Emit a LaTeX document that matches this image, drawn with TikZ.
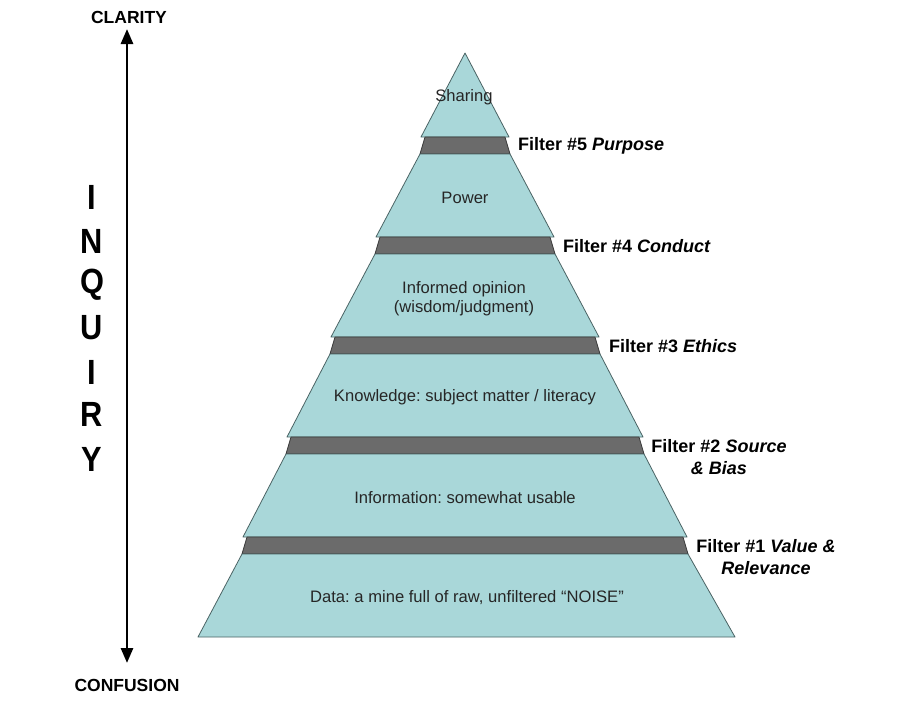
\documentclass[tikz,border=0pt]{standalone}
\usepackage{fontspec}
\setmainfont{Liberation Sans}
\usetikzlibrary{arrows.meta}
\definecolor{tealfill}{HTML}{A9D7D9}
\definecolor{tealline}{HTML}{4A6364}
\definecolor{bandfill}{HTML}{6B6B6B}
\definecolor{bandline}{HTML}{3A3A3A}
\begin{document}
\frenchspacing
\begin{tikzpicture}[x=1pt,y=-1pt,
  layer/.style={fill=tealfill,draw=tealline,line width=0.8pt,line join=round},
  band/.style={fill=bandfill,draw=bandline,line width=0.8pt,line join=round},
  laytext/.style={font=\fontsize{16.6}{19.5}\selectfont,text=black!85,align=center,inner sep=0pt},
  filtext/.style={font=\fontsize{18}{22}\selectfont\bfseries,text=black,inner sep=0pt},
  endtext/.style={font=\fontsize{17.5}{20}\selectfont\bfseries,text=black,inner sep=0pt},
  bigletter/.style={font=\fontsize{35}{35}\selectfont\bfseries,text=black,inner sep=0pt}]
\useasboundingbox[fill=white] (0,0) rectangle (900,720);
% layers
\path[layer] (465,53) -- (509,137) -- (421,137) -- cycle;
\path[band] (425,137) -- (505,137) -- (510,154) -- (420,154) -- cycle;
\path[layer] (420,154) -- (510,154) -- (554,237) -- (376,237) -- cycle;
\path[band] (380,237) -- (550,237) -- (555,254) -- (375,254) -- cycle;
\path[layer] (375,254) -- (555,254) -- (599,337) -- (331,337) -- cycle;
\path[band] (335,337) -- (595,337) -- (600,354) -- (330,354) -- cycle;
\path[layer] (330,354) -- (600,354) -- (643,437) -- (287,437) -- cycle;
\path[band] (291,437) -- (639,437) -- (644,454) -- (286,454) -- cycle;
\path[layer] (286,454) -- (644,454) -- (687,537) -- (243,537) -- cycle;
\path[band] (247,537) -- (683,537) -- (688,554) -- (242,554) -- cycle;
\path[layer] (242,554) -- (688,554) -- (735,637) -- (198,637) -- cycle;
% layer texts
\node[laytext] (sharing) at (464,97.5) {Sharing};
\node[laytext] (power) at (465,197.5) {Power};
\node[laytext] (opinion) at (464,298.5) {Informed opinion\\(wisdom/judgment)};
\node[laytext] (knowledge) at (465,397.5) {Knowledge: subject matter / literacy};
\node[laytext] (information) at (465,497.5) {Information: somewhat usable};
\node[laytext] (data) at (467,597.5) {Data: a mine full of raw, unfiltered “NOISE”};
% filter labels
\node[filtext,anchor=west] (f5) at (518,146) {Filter \#5 \textit{Purpose}};
\node[filtext,anchor=west] (f4) at (563,246) {Filter \#4 \textit{Conduct}};
\node[filtext,anchor=west] (f3) at (609,346) {Filter \#3 \textit{Ethics}};
\node[filtext,align=center] (f2) at (719,457) {Filter \#2 \textit{Source}\\\textit{\& Bias}};
\node[filtext,align=center] (f1) at (766,557) {Filter \#1 \textit{Value \&}\\\textit{Relevance}};
% axis
\node[endtext] (clarity) at (129,17) {CLARITY};
\node[endtext] (confusion) at (127,685) {CONFUSION};
\coordinate (atop) at (127,29);
\coordinate (abot) at (127,663);
\draw[line width=2.8pt,{Triangle[length=15pt,width=12pt]}-{Triangle[length=15pt,width=12pt]}] (atop) -- (abot);
\foreach \ch/\yy [count=\i] in {I/197,N/241,Q/285,U/328,I/372,R/414,Y/459}
  \node[bigletter] (inq\i) at (92,\yy) {\scalebox{0.88}[1]{\ch}};
\end{tikzpicture}
\end{document}
